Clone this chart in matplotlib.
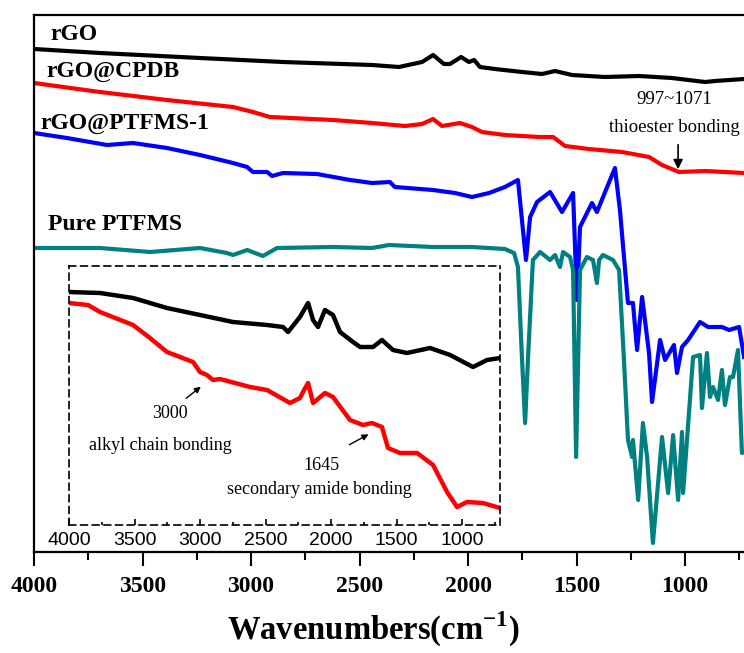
import matplotlib.pyplot as plt
from matplotlib.ticker import MultipleLocator

plt.rcParams["font.family"] = ["Liberation Serif", "DejaVu Serif"]
plt.rcParams["mathtext.fontset"] = "custom"
plt.rcParams["mathtext.rm"] = "Liberation Serif"
plt.rcParams["mathtext.bf"] = "Liberation Serif:bold"

# main panel: offset FTIR traces, transmittance in arbitrary units
RGO_WN = [4000, 3696, 3235, 2853, 2442, 2318, 2212, 2161, 2111, 2083, 2032, 1996, 1972,
          1945, 1876, 1751, 1659, 1599, 1521, 1369, 1212, 1060, 908, 862, 728]
RGO_T = [503, 499, 494, 490, 487, 485, 490, 497, 488, 488, 495, 490, 492,
         485, 483, 480, 478, 481, 477, 475, 476, 474, 470, 471, 473]

CPDB_WN = [4000, 3696, 3387, 3083, 2991, 2913, 2622, 2442, 2290, 2212, 2161, 2120, 2037,
           1982, 1936, 1830, 1673, 1608, 1553, 1443, 1290, 1166, 1106, 1028, 908, 728]
CPDB_T = [469, 460, 452, 445, 440, 435, 432, 429, 426, 428, 433, 426, 429,
          425, 420, 417, 415, 415, 406, 403, 400, 395, 387, 380, 381, 379]

PTFMS1_WN = [4000, 3848, 3664, 3544, 3387, 3235, 3083, 3018, 2991, 2926, 2903, 2853, 2696,
             2544, 2442, 2360, 2337, 2161, 2060, 1982, 1903, 1830, 1770, 1733, 1714, 1682,
             1622, 1567, 1516, 1498, 1484, 1429, 1406, 1323, 1300, 1263, 1240, 1221, 1198,
             1166, 1152, 1115, 1092, 1051, 1037, 1014, 986, 931, 894, 830, 797, 751, 728]
PTFMS1_T = [419, 414, 407, 409, 404, 397, 389, 385, 380, 380, 376, 379, 378,
            372, 369, 370, 365, 362, 359, 355, 359, 365, 372, 292, 335, 350,
            360, 340, 359, 252, 325, 349, 340, 384, 342, 249, 249, 202, 255,
            199, 150, 212, 192, 207, 179, 205, 212, 230, 225, 225, 222, 225, 195]

PURE_WN = [4000, 3696, 3465, 3235, 3111, 3083, 3018, 2945, 2880, 2622, 2442, 2364, 2161,
           1982, 1830, 1788, 1770, 1751, 1737, 1724, 1701, 1668, 1622, 1599, 1576, 1562,
           1530, 1516, 1502, 1484, 1452, 1424, 1406, 1396, 1378, 1332, 1304, 1281, 1263,
           1244, 1240, 1216, 1194, 1175, 1148, 1106, 1078, 1055, 1032, 1014, 1009, 963,
           931, 922, 899, 885, 871, 848, 830, 816, 793, 779, 756, 738, 728]
PURE_T = [304, 304, 300, 304, 299, 297, 302, 296, 304, 305, 304, 307, 305,
          305, 303, 299, 285, 192, 129, 192, 292, 300, 292, 297, 285, 300,
          295, 282, 95, 282, 295, 292, 269, 292, 297, 292, 282, 190, 112,
          95, 112, 52, 129, 95, 9, 115, 59, 117, 52, 120, 59, 195,
          197, 144, 199, 155, 165, 152, 182, 147, 175, 175, 202, 99, 100]

# inset: rGO and rGO@CPDB on a stretched scale
IN_RGO_WN = [4000, 3763, 3511, 3252, 3000, 2748, 2488, 2366, 2328, 2237, 2175, 2137, 2099,
             2046, 1985, 1931, 1832, 1778, 1679, 1611, 1527, 1420, 1244, 1091, 916, 809, 710]
IN_RGO_T = [233, 232, 227, 217, 210, 203, 200, 198, 193, 208, 222, 205, 198,
            215, 210, 193, 183, 178, 178, 185, 175, 172, 177, 170, 158, 165, 167]

IN_CPDB_WN = [4000, 3855, 3763, 3511, 3382, 3252, 3053, 3000, 2947, 2901, 2847, 2618, 2488,
              2313, 2237, 2214, 2175, 2137, 2046, 1985, 1855, 1756, 1687, 1611, 1565, 1473,
              1343, 1221, 1114, 1038, 962, 840, 710]
IN_CPDB_T = [222, 220, 213, 200, 187, 173, 163, 153, 150, 145, 146, 138, 135,
             122, 127, 133, 142, 122, 132, 128, 105, 100, 102, 98, 77, 72,
             72, 60, 33, 18, 23, 22, 17]

LABELS = ["rGO", "rGO@CPDB", "rGO@PTFMS-1", "Pure PTFMS"]
COLORS = ["#000000", "#ff0000", "#0000ff", "#008080"]
MAIN_TICKS = [4000, 3500, 3000, 2500, 2000, 1500, 1000]

fig = plt.figure(figsize=(7.44, 6.53), dpi=100)
ax = fig.add_axes([34 / 744, 101 / 653, 726 / 744, 537 / 653])

series = [(RGO_WN, RGO_T), (CPDB_WN, CPDB_T), (PTFMS1_WN, PTFMS1_T), (PURE_WN, PURE_T)]
for (wn, t), color in zip(series, COLORS):
    ax.plot(wn, t, color=color, lw=3, solid_joinstyle="round")

ax.set_xlim(4000, 654.6)
ax.set_ylim(0, 537)
ax.set_yticks([])
ax.set_xticks(MAIN_TICKS)
ax.xaxis.set_minor_locator(MultipleLocator(250))
ax.tick_params(axis="x", which="major", direction="out", length=10, width=1.5, pad=7,
               labelsize=17)
ax.tick_params(axis="x", which="minor", direction="out", length=6, width=1.5)
for lbl in ax.get_xticklabels():
    lbl.set_fontweight("bold")
for side in ["top", "left", "bottom", "right"]:
    ax.spines[side].set_linewidth(1.6)
ax.set_xlabel("Wavenumbers(cm$^{\\mathbf{-1}}$)", fontsize=23.5, fontweight="bold")
ax.xaxis.set_label_coords(0.467, -0.108)

label_pos = [(3926, 517), (3945, 481), (3972, 428), (3935, 327)]
for text, (x, y) in zip(LABELS, label_pos):
    ax.text(x, y, text, fontsize=17, fontweight="bold", ha="left", va="center")

ax.text(1051, 453, "997~1071", fontsize=13.5, ha="center", va="center")
ax.text(1051, 425, "thioester bonding", fontsize=13.5, ha="center", va="center")
ax.annotate("", xy=(1032, 380), xytext=(1032, 410),
            arrowprops=dict(arrowstyle="-|>", color="black", lw=1.2, mutation_scale=14))

# inset box with dashed frame
ins = fig.add_axes([69 / 744, 128 / 653, 431 / 744, 259 / 653])
ins.patch.set_alpha(0)
ins.plot(IN_RGO_WN, IN_RGO_T, color=COLORS[0], lw=3.2)
ins.plot(IN_CPDB_WN, IN_CPDB_T, color=COLORS[1], lw=3.2)
ins.set_xlim(4000, 710)
ins.set_ylim(0, 259)
ins.set_yticks([])
ins.set_xticks(MAIN_TICKS)
ins.xaxis.set_minor_locator(MultipleLocator(250))
ins.tick_params(axis="x", which="major", direction="in", length=4, width=1.2, pad=5,
                labelsize=14)
ins.tick_params(axis="x", which="minor", direction="in", length=2.5, width=1.2)
for lbl in ins.get_xticklabels():
    lbl.set_fontfamily(["Liberation Sans", "DejaVu Sans"])
for side in ["top", "left", "bottom", "right"]:
    ins.spines[side].set_linestyle((0, (4, 3)))
    ins.spines[side].set_linewidth(1.2)

ins.text(3229, 111, "3000", fontsize=13, ha="center", va="center")
ins.text(3305, 80, "alkyl chain bonding", fontsize=13, ha="center", va="center")
ins.annotate("", xy=(2977, 140), xytext=(3122, 125),
             arrowprops=dict(arrowstyle="-|>", color="black", lw=1, mutation_scale=9))
ins.text(2069, 60, "1645", fontsize=13, ha="center", va="center")
ins.text(2092, 35, "secondary amide bonding", fontsize=13, ha="center", va="center")
ins.annotate("", xy=(1695, 92), xytext=(1878, 79),
             arrowprops=dict(arrowstyle="-|>", color="black", lw=1, mutation_scale=9))

fig.savefig("out.png", dpi=100)
